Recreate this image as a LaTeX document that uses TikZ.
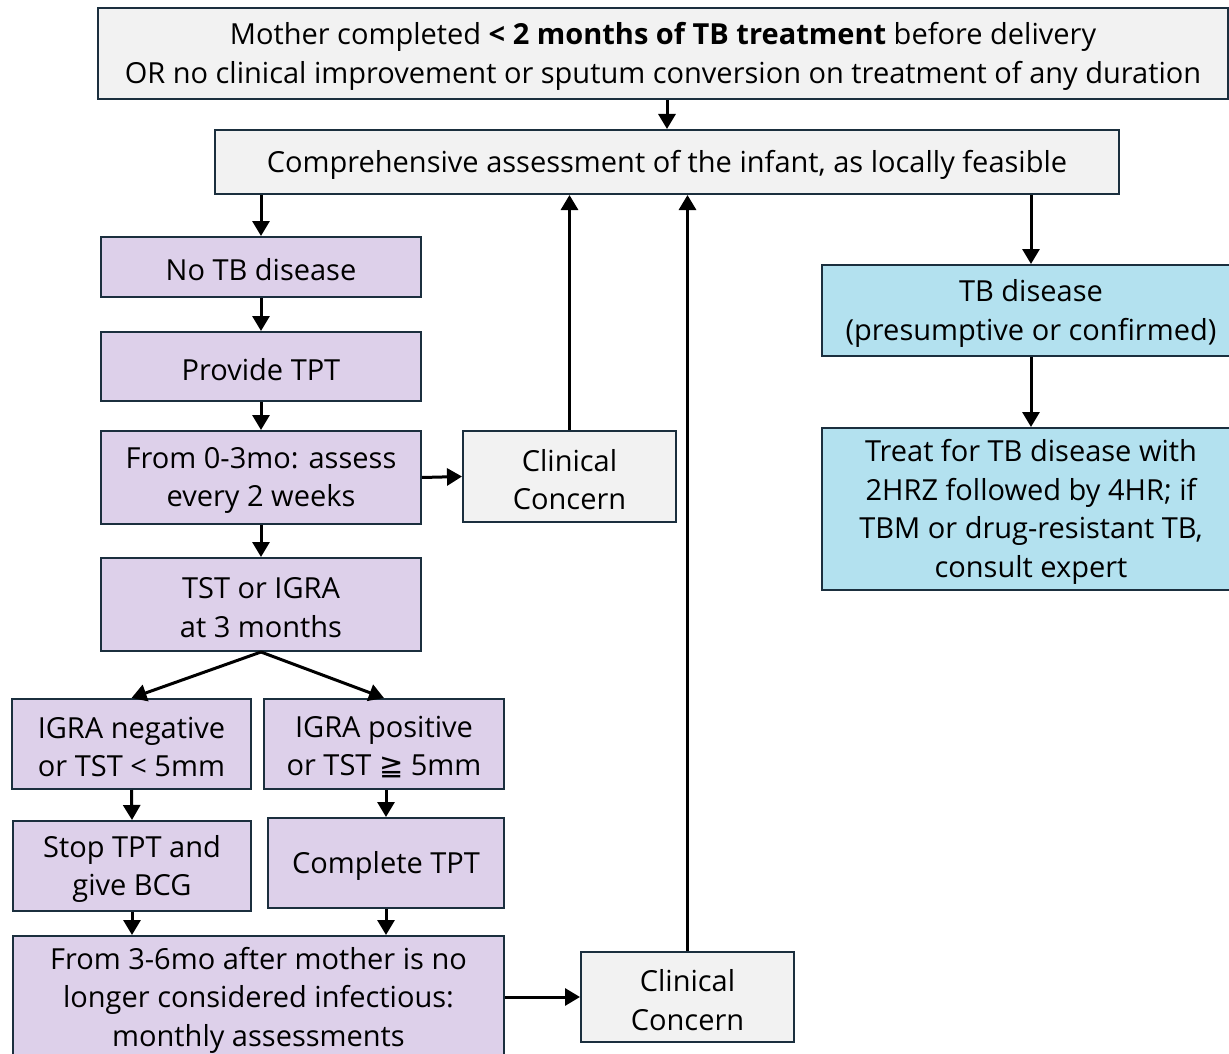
\documentclass[tikz,border=0pt]{standalone}
\usepackage{fontspec}
\setmainfont{Open Sans}
\newfontfamily\symfont{DejaVu Sans}
\usetikzlibrary{arrows.meta,calc}
\definecolor{greyfill}{HTML}{F2F2F2}
\definecolor{purplefill}{HTML}{DDD0EA}
\definecolor{bluefill}{HTML}{B3E1EF}
\definecolor{bordercol}{HTML}{1B2F3E}
\tikzset{
  box/.style={draw=bordercol, line width=2pt, inner sep=0pt, anchor=north west},
  txt/.style={align=center, inner sep=0pt, font=\fontsize{29}{38.6}\selectfont, text=black},
  greybox/.style={box, fill=greyfill},
  purplebox/.style={box, fill=purplefill},
  bluebox/.style={box, fill=bluefill},
  arr/.style={line width=3pt, -{Triangle[length=15pt,width=17pt]}},
}
\newcommand{\bx}[6]{\node[#1, minimum width=#4pt, minimum height=#5pt] (#2) at (#3) {};
  \node[txt] (#2-text) at ($(#2.center)+(0,3)$) {#6};}
\begin{document}
\begin{tikzpicture}[x=1pt,y=-1pt]
\fill[white] (0,0) rectangle (1229,1054);
\clip (0,0) rectangle (1229,1054);
\useasboundingbox (0,0) rectangle (1229,1054);
\bx{greybox}{top}{97,7}{1130}{91}{Mother completed \textbf{< 2 months of TB treatment} before delivery\\OR no clinical improvement or sputum conversion on treatment of any duration}
\bx{greybox}{comp}{214,129}{904}{64}{Comprehensive assessment of the infant, as locally feasible}
\bx{purplebox}{notb}{100,236}{320}{60}{No TB disease}
\bx{purplebox}{tpt}{100,331}{320}{69}{Provide TPT}
\bx{purplebox}{f03}{100,430}{320}{93}{From 0-3mo: assess\\every 2 weeks}
\bx{greybox}{cc1}{462,430}{213}{91}{Clinical\\Concern}
\bx{purplebox}{tst}{100,557}{320}{93}{TST or IGRA\\at 3 months}
\bx{purplebox}{ineg}{11,698}{239}{90}{IGRA negative\\or TST < 5mm}
\bx{purplebox}{ipos}{263,698}{240}{90}{IGRA positive\\or TST {\symfont ≧} 5mm}
\bx{purplebox}{stop}{12,820}{238}{90}{Stop TPT and\\give BCG}
\bx{purplebox}{cmpl}{267,817}{236}{90}{Complete TPT}
\bx{purplebox}{f36}{12,935}{491}{122}{From 3-6mo after mother is no\\longer considered infectious:\\monthly assessments}
\bx{greybox}{cc2}{580,951}{213}{90}{Clinical\\Concern}
\bx{bluebox}{tbd}{821,264}{418}{91}{TB disease\\(presumptive or confirmed)}
\bx{bluebox}{treat}{821,427}{418}{162}{Treat for TB disease with\\2HRZ followed by 4HR; if\\TBM or drug-resistant TB,\\consult expert}
\draw[arr] (comp.north |- top.south) -- (comp.north);
\draw[arr] (notb.north |- comp.south) -- (notb.north);
\draw[arr] (tbd.north |- comp.south) -- (tbd.north);
\draw[arr] (notb.south) -- (tpt.north);
\draw[arr] (tpt.south) -- (f03.north);
\draw[arr] (f03.east) -- (cc1.west);
\draw[arr] (cc1.north) -- (cc1.north |- comp.south);
\draw[arr] (f03.south) -- (tst.north);
\draw[arr] (tst.south) -- (ineg.north);
\draw[arr] (tst.south) -- (ipos.north);
\draw[arr] (ineg.south) -- (stop.north);
\draw[arr] (cmpl.north |- ipos.south) -- (cmpl.north);
\draw[arr] (stop.south) -- (stop.south |- f36.north);
\draw[arr] (cmpl.south) -- (cmpl.south |- f36.north);
\draw[arr] (f36.east |- cc2.west) -- (cc2.west);
\draw[arr] (cc2.north) -- (cc2.north |- comp.south);
\draw[arr] (tbd.south) -- (treat.north);
\end{tikzpicture}
\end{document}
